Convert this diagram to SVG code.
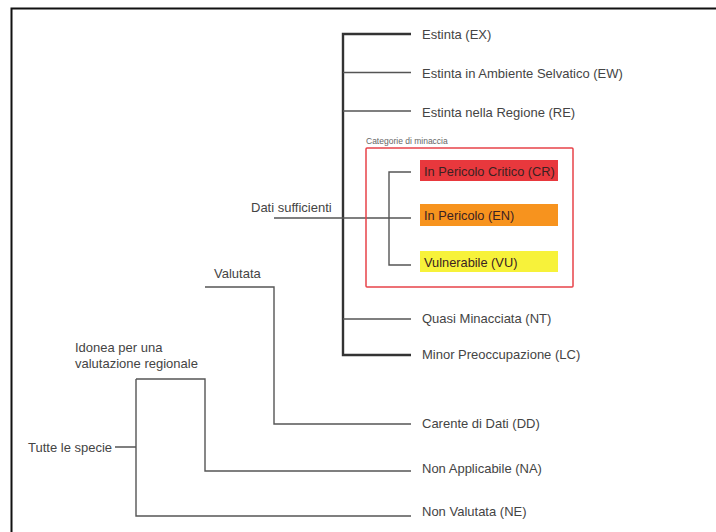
<svg xmlns="http://www.w3.org/2000/svg" width="716" height="532" viewBox="0 0 716 532">
<style>
text{font-family:"Liberation Sans","DejaVu Sans",Arial,sans-serif;font-size:13px;fill:#444}
.small{font-size:8.5px;fill:#666}
.bar{font-size:12.8px;fill:#3a2222}
.ln{stroke:#555;stroke-width:1.4;fill:none}
.thk{stroke:#333;stroke-width:2.4;fill:none}
</style>
<rect x="0" y="0" width="716" height="532" fill="#fff"/>
<rect x="11.5" y="8.5" width="720" height="540" fill="none" stroke="#111" stroke-width="2"/>
<g id="connectors">
  <path class="thk" d="M411,34 H343 V355 H411"/>
  <path class="ln" d="M343,72.5 H411 M343,111 H411 M343,319 H411"/>
  <path class="ln" d="M274,218 H411 M411,172 H389 V265 H411"/>
  <path class="ln" d="M205,287 H274 V424 H411"/>
  <path class="ln" d="M136,379 H205 V471 H411"/>
  <path class="ln" d="M115,447 H136 M136,379 V516 H411"/>
</g>
<g id="root"><text x="28" y="451.5">Tutte le specie</text></g>
<g id="idonea"><text x="75" y="351.5">Idonea per una</text><text x="75" y="367.5">valutazione regionale</text></g>
<g id="valutata"><text x="214" y="277.5">Valutata</text></g>
<g id="dati"><text x="251" y="211.5">Dati sufficienti</text></g>
<g id="ex"><text x="422" y="38.5">Estinta (EX)</text></g>
<g id="ew"><text x="422" y="77.5">Estinta in Ambiente Selvatico (EW)</text></g>
<g id="re"><text x="422" y="116.5">Estinta nella Regione (RE)</text></g>
<g id="threat">
  <text class="small" x="366" y="144">Categorie di minaccia</text>
  <rect x="366" y="148" width="207" height="139" fill="none" stroke="#e8434a" stroke-width="1.5" rx="1"/>
</g>
<g id="cr"><rect x="420" y="160" width="138" height="21" fill="#e8383d"/><text class="bar" x="424" y="175.5">In Pericolo Critico (CR)</text></g>
<g id="en"><rect x="420" y="204" width="138" height="22" fill="#f7931e"/><text class="bar" x="424" y="220">In Pericolo (EN)</text></g>
<g id="vu"><rect x="420" y="251" width="138" height="21" fill="#f7f23a"/><text class="bar" x="424" y="266.5">Vulnerabile (VU)</text></g>
<g id="nt"><text x="422" y="322.5">Quasi Minacciata (NT)</text></g>
<g id="lc"><text x="422" y="358.5">Minor Preoccupazione (LC)</text></g>
<g id="dd"><text x="422" y="427.5">Carente di Dati (DD)</text></g>
<g id="na"><text x="422" y="472.5">Non Applicabile (NA)</text></g>
<g id="ne"><text x="422" y="515.5">Non Valutata (NE)</text></g>
</svg>
